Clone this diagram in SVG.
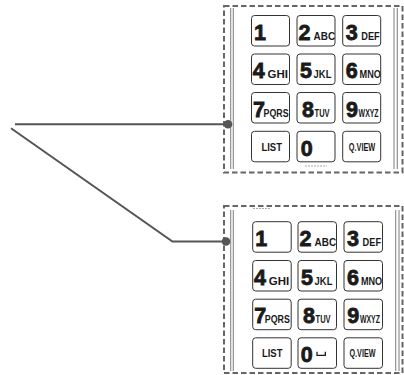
<svg xmlns="http://www.w3.org/2000/svg" width="404" height="375" viewBox="0 0 404 375">
<style>
.frame{fill:none;stroke:#666;stroke-width:2;stroke-dasharray:5.5 3}
.rail{fill:none;stroke:#888;stroke-width:1.1}
.key{fill:#fff;stroke:#333;stroke-width:1}
.d{font-family:"Liberation Sans",Arial,sans-serif;font-weight:bold;font-size:21.5px;fill:#1a1a1a;stroke:#1a1a1a;stroke-width:0.8}
.l{font-family:"Liberation Sans Narrow","Liberation Sans",Arial,sans-serif;font-weight:bold;font-size:11px;fill:#1a1a1a}
.s{font-family:"Liberation Sans Narrow","Liberation Sans",Arial,sans-serif;font-weight:bold;font-size:11px;fill:#1a1a1a;text-anchor:middle}
.frag{stroke:#aaa;stroke-width:1;stroke-dasharray:2 1}
.conn{fill:none;stroke:#555;stroke-width:2}
.dot{fill:#555}
</style>
<g id="panel-top">
<rect class="frame" x="224" y="6" width="178.5" height="166.5"/>
<path class="rail" d="M230.7 8V169M233.3 8V169M394 8V169M397.3 8V169"/>
<line class="frag" x1="305" y1="166" x2="327" y2="166"/>
<g id="top-k1" transform="translate(251.5 15.5)"><rect class="key" width="38" height="30.5" rx="3"/><text class="d" x="2.5" y="24.3">1</text></g>
<g id="top-k2" transform="translate(297 15.5)"><rect class="key" width="38" height="30.5" rx="3"/><text class="d" x="1.5" y="24.3">2</text><text class="l" x="16.6" y="24.3" textLength="21.5" lengthAdjust="spacingAndGlyphs">ABC</text></g>
<g id="top-k3" transform="translate(342.7 15.5)"><rect class="key" width="38" height="30.5" rx="3"/><text class="d" x="3" y="24.3">3</text><text class="l" x="18.6" y="24.3" textLength="18.4" lengthAdjust="spacingAndGlyphs">DEF</text></g>
<g id="top-k4" transform="translate(251.5 54)"><rect class="key" width="38" height="30.5" rx="3"/><text class="d" x="1.3" y="24.3">4</text><text class="l" x="16.1" y="24.3" textLength="20.4" lengthAdjust="spacingAndGlyphs">GHI</text></g>
<g id="top-k5" transform="translate(297 54)"><rect class="key" width="38" height="30.5" rx="3"/><text class="d" x="3" y="24.3">5</text><text class="l" x="16.6" y="24.3" textLength="17.8" lengthAdjust="spacingAndGlyphs">JKL</text></g>
<g id="top-k6" transform="translate(342.7 54)"><rect class="key" width="38" height="30.5" rx="3"/><text class="d" x="3" y="24.3">6</text><text class="l" x="16.9" y="24.3" textLength="21.3" lengthAdjust="spacingAndGlyphs">MNO</text></g>
<g id="top-k7" transform="translate(251.5 92.5)"><rect class="key" width="38" height="30.5" rx="3"/><text class="d" x="1.5" y="24.3">7</text><text class="l" x="12.1" y="24.3" textLength="25" lengthAdjust="spacingAndGlyphs">PQRS</text></g>
<g id="top-k8" transform="translate(297 92.5)"><rect class="key" width="38" height="30.5" rx="3"/><text class="d" x="5" y="24.3">8</text><text class="l" x="17.6" y="24.3" textLength="15" lengthAdjust="spacingAndGlyphs">TUV</text></g>
<g id="top-k9" transform="translate(342.7 92.5)"><rect class="key" width="38" height="30.5" rx="3"/><text class="d" x="3.3" y="24.3">9</text><text class="l" x="15.9" y="24.3" textLength="20" lengthAdjust="spacingAndGlyphs">WXYZ</text></g>
<g id="top-list" transform="translate(251.5 131.3)"><rect class="key" width="38" height="30.5" rx="3"/><text class="s" x="20.2" y="19.5" textLength="20.5" lengthAdjust="spacingAndGlyphs">LIST</text></g>
<g id="top-k0" transform="translate(297 131.3)"><rect class="key" width="38" height="30.5" rx="3"/><text class="d" x="3.7" y="24.7">0</text></g>
<g id="top-qview" transform="translate(342.7 131.3)"><rect class="key" width="38" height="30.5" rx="3"/><text class="s" x="19.3" y="19.3" font-size="9.5" textLength="26.5" lengthAdjust="spacingAndGlyphs">Q.VIEW</text></g>
</g>
<g id="panel-bottom">
<rect class="frame" x="224" y="206" width="178.5" height="167"/>
<path class="rail" d="M230.7 210V371M233.3 210V371M395.7 210V371M399 210V371"/>
<line class="frag" x1="253" y1="208.5" x2="270" y2="208.5"/>
<g id="bot-k1" transform="translate(252.7 221.7)"><rect class="key" width="38.5" height="30.5" rx="3"/><text class="d" x="2.5" y="24.3">1</text></g>
<g id="bot-k2" transform="translate(298 221.7)"><rect class="key" width="38.5" height="30.5" rx="3"/><text class="d" x="1.5" y="24.3">2</text><text class="l" x="16.6" y="24.3" textLength="21.5" lengthAdjust="spacingAndGlyphs">ABC</text></g>
<g id="bot-k3" transform="translate(344 221.7)"><rect class="key" width="38.5" height="30.5" rx="3"/><text class="d" x="3" y="24.3">3</text><text class="l" x="18.6" y="24.3" textLength="18.4" lengthAdjust="spacingAndGlyphs">DEF</text></g>
<g id="bot-k4" transform="translate(252.7 260.5)"><rect class="key" width="38.5" height="30.5" rx="3"/><text class="d" x="1.3" y="24.3">4</text><text class="l" x="16.1" y="24.3" textLength="20.4" lengthAdjust="spacingAndGlyphs">GHI</text></g>
<g id="bot-k5" transform="translate(298 260.5)"><rect class="key" width="38.5" height="30.5" rx="3"/><text class="d" x="3" y="24.3">5</text><text class="l" x="16.6" y="24.3" textLength="17.8" lengthAdjust="spacingAndGlyphs">JKL</text></g>
<g id="bot-k6" transform="translate(344 260.5)"><rect class="key" width="38.5" height="30.5" rx="3"/><text class="d" x="3" y="24.3">6</text><text class="l" x="16.9" y="24.3" textLength="21.3" lengthAdjust="spacingAndGlyphs">MNO</text></g>
<g id="bot-k7" transform="translate(252.7 299.2)"><rect class="key" width="38.5" height="30.5" rx="3"/><text class="d" x="1.5" y="24.3">7</text><text class="l" x="12.1" y="24.3" textLength="25" lengthAdjust="spacingAndGlyphs">PQRS</text></g>
<g id="bot-k8" transform="translate(298 299.2)"><rect class="key" width="38.5" height="30.5" rx="3"/><text class="d" x="5" y="24.3">8</text><text class="l" x="17.6" y="24.3" textLength="15" lengthAdjust="spacingAndGlyphs">TUV</text></g>
<g id="bot-k9" transform="translate(344 299.2)"><rect class="key" width="38.5" height="30.5" rx="3"/><text class="d" x="3.3" y="24.3">9</text><text class="l" x="15.9" y="24.3" textLength="20" lengthAdjust="spacingAndGlyphs">WXYZ</text></g>
<g id="bot-list" transform="translate(252.7 337.8)"><rect class="key" width="38.5" height="30.5" rx="3"/><text class="s" x="19.5" y="19.5" textLength="20.5" lengthAdjust="spacingAndGlyphs">LIST</text></g>
<g id="bot-k0" transform="translate(298 337.8)"><rect class="key" width="38.5" height="30.5" rx="3"/><text class="d" x="2.8" y="24.7">0</text><path d="M19 14V17.5H27.3V14" fill="none" stroke="#1a1a1a" stroke-width="1.3"/></g>
<g id="bot-qview" transform="translate(344 337.8)"><rect class="key" width="38.5" height="30.5" rx="3"/><text class="s" x="18.5" y="19.3" font-size="9.5" textLength="26" lengthAdjust="spacingAndGlyphs">Q.VIEW</text></g>
</g>
<g id="connectors">
<path class="conn" d="M15 124.3H228"/>
<path class="conn" d="M11 128.3L172.5 241.5H226"/>
<circle class="dot" cx="228" cy="124.3" r="4.3"/>
<circle class="dot" cx="226" cy="241.5" r="4.3"/>
</g>
</svg>
